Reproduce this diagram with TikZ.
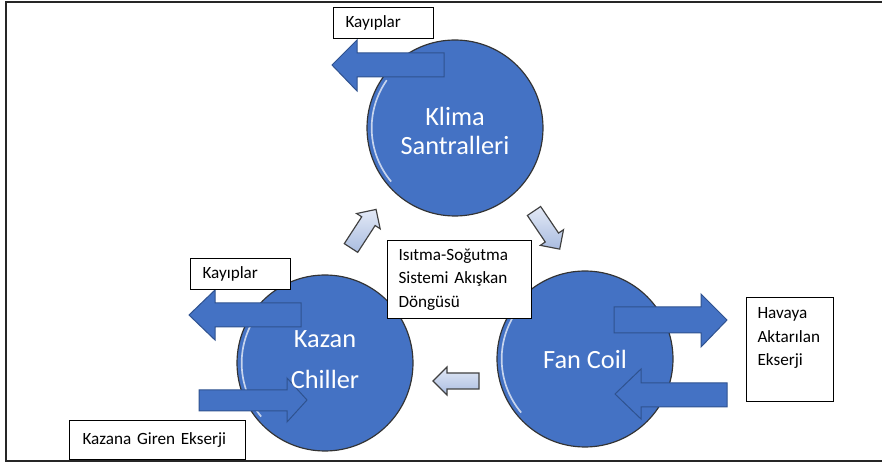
\documentclass[tikz,border=0pt]{standalone}
\usepackage{fontspec}
\setmainfont{Carlito}
\usetikzlibrary{positioning}
\definecolor{ballblue}{HTML}{4472C4}
\definecolor{arrowedge}{HTML}{2F528F}
\definecolor{flowlight}{HTML}{E3E9F6}
\definecolor{flowdark}{HTML}{A9BCE0}
\begin{document}
\begin{tikzpicture}[x=0.6pt, y=-0.6pt,
  ball/.style={circle, fill=ballblue, draw=black!80, line width=0.7pt, minimum size=105.6pt, inner sep=0pt},
  balltext/.style={text=white, align=center, inner sep=0pt, font=\fontsize{15.8}{17.5}\selectfont},
  shine/.style={white, opacity=0.7, line width=1pt},
  txtbox/.style={draw=black, line width=0.6pt, fill=white, anchor=north west, align=left, inner ysep=0pt, font=\fontsize{10.3}{14.1}\selectfont},
  bigarrow/.style={fill=ballblue, draw=arrowedge, line width=0.6pt},
  flowarrow/.pic={\draw[draw=black!75, line width=0.7pt, top color=flowlight, bottom color=flowdark] (0,-8)--(32,-8)--(32,-14)--(46,0)--(32,14)--(32,8)--(0,8)--cycle;}
]
\useasboundingbox (0,0) rectangle (882,464);
\draw[line width=1.3pt, black!85] (882,2) -- (6,2) -- (6,461) -- (882,461);

\node[ball] (klima) at (455,128) {};
\node[ball] (kazan) at (325,363) {};
\node[ball] (fancoil) at (585,359) {};
\foreach \b in {klima,kazan,fancoil}
  \draw[shine] ([shift={(145:50pt)}]\b.center) arc[start angle=145, end angle=220, radius=50pt];

\draw[bigarrow] (444,53) -- (357,53) -- (357,40) -- (332,65) -- (357,91) -- (357,77) -- (444,77) -- cycle;
\draw[bigarrow] (301,303) -- (215,303) -- (215,290) -- (189,315) -- (215,340) -- (215,327) -- (301,327) -- cycle;
\draw[bigarrow] (199,390) -- (287,390) -- (287,378) -- (307,400) -- (287,422) -- (287,411) -- (199,411) -- cycle;
\draw[bigarrow] (614,307) -- (701,307) -- (701,294) -- (727,320) -- (701,347) -- (701,333) -- (614,333) -- cycle;
\draw[bigarrow] (727,383) -- (641,383) -- (641,369) -- (615,394) -- (641,419) -- (641,407) -- (727,407) -- cycle;

\pic[rotate=57] at (351,248) {flowarrow};
\pic[rotate=-56] at (534,211) {flowarrow};
\pic[rotate=180] at (479,381) {flowarrow};

\node[balltext] (klimatext) at ([yshift=-2pt]klima.center) {Klima\\Santralleri};
\node[balltext] (kazantext) at ([yshift=2pt]kazan.center) {Kazan\\[7.5pt]Chiller};
\node[balltext] (fancoiltext) at (fancoil.center) {Fan Coil};

\node[txtbox, minimum height=18.6pt, text width=45.6pt, inner xsep=7.2pt] (kayipklima) at (333,7) {Kayıplar};
\node[txtbox, minimum height=18.6pt, text width=45.6pt, inner xsep=7.2pt] (kayipkazan) at (190,258) {Kayıplar};
\node[txtbox, minimum height=23.4pt, text width=90pt, inner xsep=7.8pt] (giren) at (69,420) {Kazana Giren Ekserji};
\node[txtbox, minimum height=46.8pt, text width=73.2pt, inner xsep=6.6pt] (dongu) at (387,240) {Isıtma-Soğutma\\Sistemi Akışkan\\Döngüsü};
\node[txtbox, inner ysep=6pt, text depth=43.8pt, text width=39pt, inner xsep=6.6pt] (havaya) at (746,297) {Havaya\\Aktarılan\\Ekserji};
\end{tikzpicture}
\end{document}
